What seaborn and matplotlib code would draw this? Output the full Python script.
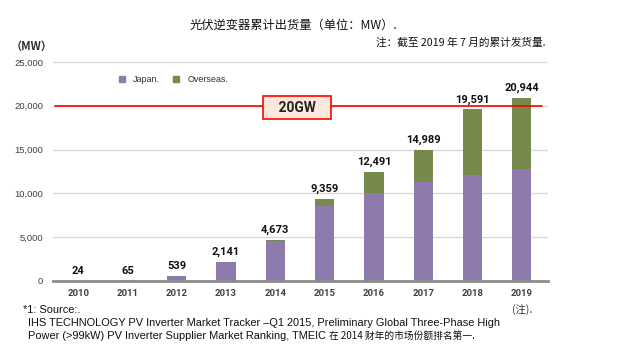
import matplotlib
matplotlib.use("Agg")
import matplotlib.pyplot as plt
from matplotlib.lines import Line2D
import seaborn as sns
import pandas as pd

years = ["2010", "2011", "2012", "2013", "2014", "2015", "2016", "2017", "2018", "2019"]
totals = [24, 65, 539, 2141, 4673, 9359, 12491, 14989, 19591, 20944]
japan = [24, 65, 539, 2141, 4550, 8600, 10100, 11300, 12050, 12800]
total_labels = ["24", "65", "539", "2,141", "4,673", "9,359", "12,491", "14,989", "19,591", "20,944"]
yticks = [0, 5000, 10000, 15000, 20000, 25000]
ytick_labels = ["0", "5,000", "10,000", "15,000", "20,000", "25,000"]

sns.set_theme(style="white")
plt.rcParams['font.family'] = ['Noto Sans CJK SC', 'DejaVu Sans']

PURPLE = "#8e7aad"
GREEN = "#758a4b"
LAT = ['Liberation Sans', 'Noto Sans CJK SC']
CJK = ['Noto Sans CJK SC', 'DejaVu Sans']

df = pd.DataFrame({"year": years, "total": totals, "japan": japan})

fig = plt.figure(figsize=(6.41, 3.45), dpi=100)
ax = fig.add_axes([53/641, 64/345, 495/641, 219/345])

sns.barplot(data=df, x="year", y="total", color=GREEN, width=0.39, ax=ax,
            saturation=1, edgecolor="none", zorder=3)
sns.barplot(data=df, x="year", y="japan", color=PURPLE, width=0.39, ax=ax,
            saturation=1, edgecolor="none", zorder=3)

ax.set_xlim(-0.51, 9.53)
ax.set_ylim(0, 25000)
ax.set_yticks(yticks)
ax.set_yticklabels(ytick_labels, fontsize=6.8, color="#404040", family="Liberation Sans")
ax.set_xlabel("")
ax.set_ylabel("")
for t in ax.get_xticklabels():
    t.set_fontsize(6.8)
    t.set_fontweight("bold")
    t.set_color("#404040")
    t.set_family("Roboto")
ax.tick_params(axis="x", length=0, pad=6)
ax.tick_params(axis="y", length=0, pad=7)

for y in yticks[1:]:
    ax.axhline(y, color="#d9d9d9", lw=1, zorder=1)
for s in ["top", "right", "left"]:
    ax.spines[s].set_visible(False)
ax.spines["bottom"].set_color("#8c8c8c")
ax.spines["bottom"].set_linewidth(2)
ax.spines["bottom"].set_zorder(4)

for i, (v, lab) in enumerate(zip(totals, total_labels)):
    ax.text(i, v + 550, lab, ha="center", va="bottom", fontsize=8,
            fontweight="bold", color="#111111", family="Roboto", zorder=5)

ax.plot([-0.47, 9.4], [20000, 20000], color="#ff0000", lw=1.2, zorder=4)
ax.text(4.44, 19800, "   20GW   ", ha="center", va="center", fontsize=10, fontweight="bold",
        color="#222222", family="Roboto", zorder=6,
        bbox=dict(boxstyle="square,pad=0.35", fc="#fde9dc", ec="#ff0000", lw=1.2))

handles = [Line2D([], [], marker="s", ls="none", color=PURPLE, markersize=4.5, label="Japan."),
           Line2D([], [], marker="s", ls="none", color=GREEN, markersize=4.5, label="Overseas.")]
ax.legend(handles=handles, loc="center left", bbox_to_anchor=(0.113, 0.918), ncol=2,
          frameon=False, handletextpad=0.75, columnspacing=1.3, handlelength=1.0,
          prop={"family": "Liberation Sans", "size": 6.5}, labelcolor="#333333")

fig.text(293/641, 1 - 25/345, "光伏逆变器累计出货量（单位：MW）.", ha="center", va="center",
         fontsize=8.8, color="#111111", family=CJK)
fig.text(545/641, 1 - 43/345, "注：截至 2019 年 7 月的累计发货量.", ha="right", va="center",
         fontsize=7.7, color="#111111", family=CJK)
fig.text(32/641, 1 - 46/345, "（MW）", ha="center", va="center", fontsize=8,
         fontweight="bold", color="#333333", family=CJK)

FS = 7.9
fig.text(23/641, 1 - 310/345, "*1: Source:.", ha="left", va="center", fontsize=FS,
         color="#111111", family=LAT)
fig.text(522/641, 1 - 310/345, "(注).", ha="center", va="center", fontsize=7.5,
         color="#333333", family=CJK)
fig.text(28/641, 1 - 323/345,
         "IHS TECHNOLOGY PV Inverter Market Tracker –Q1 2015, Preliminary Global Three-Phase High",
         ha="left", va="center", fontsize=FS, color="#111111", family=LAT)
t1 = fig.text(28/641, 1 - 336/345,
              "Power (>99kW) PV Inverter Supplier Market Ranking, TMEIC ",
              ha="left", va="center", fontsize=FS, color="#111111", family=LAT)
fig.canvas.draw()
bb = t1.get_window_extent()
fig.text(bb.x1 / fig.bbox.width, 1 - 336/345, "在 2014 财年的市场份额排名第一.",
         ha="left", va="center", fontsize=7.0, color="#111111", family=CJK)

fig.savefig("out.png", dpi=100)
